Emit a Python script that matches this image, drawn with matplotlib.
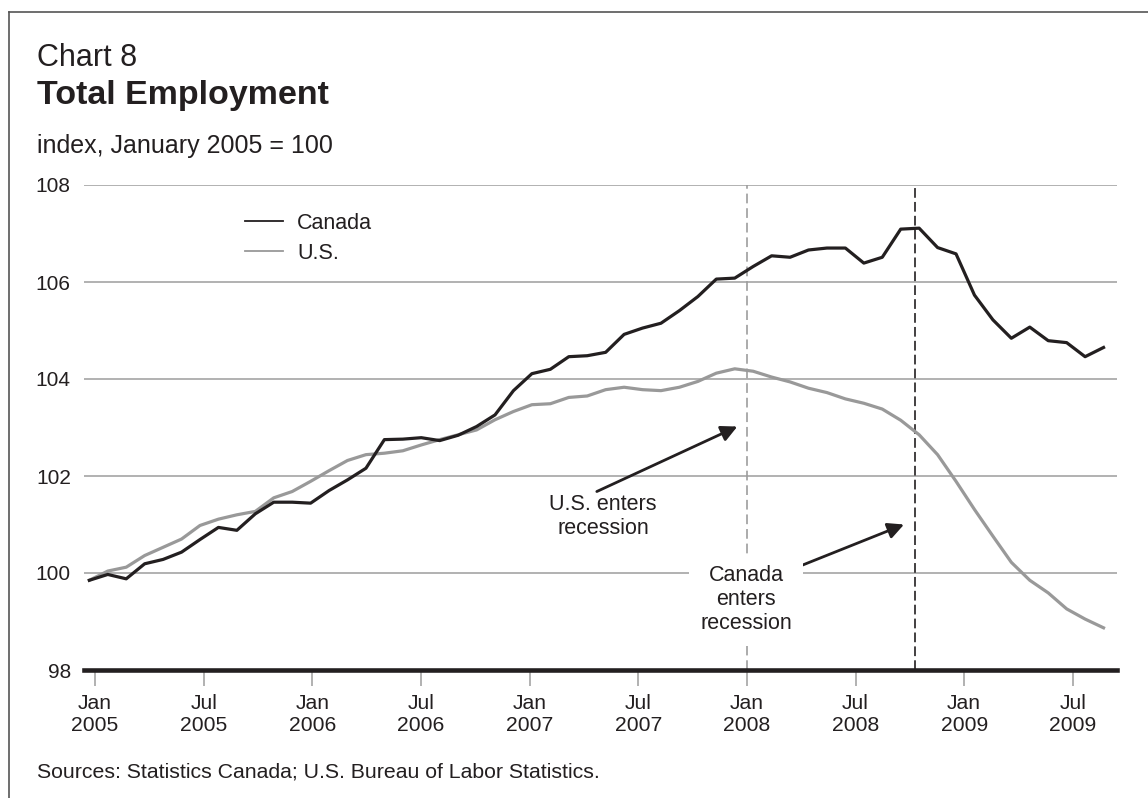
import numpy as np
import matplotlib
matplotlib.use("Agg")
import matplotlib.pyplot as plt
from matplotlib.lines import Line2D

# monthly index, January 2005 = 100 (Jan 2005 .. Aug 2009)
canada = [99.85, 99.97, 99.88, 100.19, 100.28, 100.43, 100.69, 100.94, 100.88, 101.22,
          101.46, 101.46, 101.44, 101.70, 101.92, 102.16, 102.75, 102.76, 102.79, 102.73,
          102.84, 103.02, 103.26, 103.76, 104.11, 104.20, 104.46, 104.48, 104.55, 104.92,
          105.05, 105.15, 105.41, 105.70, 106.06, 106.08, 106.32, 106.54, 106.51, 106.66,
          106.70, 106.70, 106.39, 106.51, 107.09, 107.11, 106.71, 106.58, 105.73, 105.22,
          104.84, 105.07, 104.79, 104.75, 104.46, 104.65]
us = [99.85, 100.04, 100.12, 100.36, 100.53, 100.70, 100.98, 101.11, 101.20, 101.27,
      101.55, 101.68, 101.89, 102.11, 102.32, 102.44, 102.47, 102.52, 102.64, 102.75,
      102.85, 102.95, 103.16, 103.33, 103.47, 103.49, 103.62, 103.65, 103.78, 103.83,
      103.78, 103.76, 103.83, 103.95, 104.12, 104.21, 104.16, 104.04, 103.94, 103.81,
      103.72, 103.59, 103.50, 103.38, 103.15, 102.85, 102.44, 101.89, 101.31, 100.76,
      100.22, 99.85, 99.59, 99.26, 99.05, 98.87]
tick_labels = ["Jan\n2005", "Jul\n2005", "Jan\n2006", "Jul\n2006", "Jan\n2007",
               "Jul\n2007", "Jan\n2008", "Jul\n2008", "Jan\n2009", "Jul\n2009"]
tick_months = np.arange(0, 55, 6)
us_recession = 36      # months after Jan 2005
can_recession = 45.3

plt.rcParams['font.family'] = ['Liberation Sans', 'DejaVu Sans']
plt.rcParams['lines.scale_dashes'] = False
ink = '#231f20'
grey = '#9d9d9d'

W, H = 1148, 798
fig = plt.figure(figsize=(W / 100, H / 100), dpi=100)
ax = fig.add_axes([84 / W, 1 - 670 / H, (1117 - 84) / W, (670 - 185) / H])

# the chart's ticks run a bit tighter than the monthly points
def month_pos(m):
    return 0.31 + np.asarray(m) * 0.9819

x = np.arange(len(canada))
l_can, = ax.plot(x, canada, color=ink, lw=2.3, zorder=4, label='Canada')
l_us, = ax.plot(x, us, color='#999999', lw=2.3, zorder=3, label='U.S.')

ax.axvline(month_pos(us_recession), color=grey, lw=1.2, dashes=(7, 3.5), zorder=2)
ax.axvline(month_pos(can_recession), color=ink, lw=1.2, dashes=(7, 3), zorder=2)

ax.set_xlim(-0.29, 55.73)
ax.set_ylim(98, 108)
ax.set_yticks(np.arange(98, 109, 2))
ax.yaxis.grid(True, color=grey, lw=1.1, zorder=1)
ax.set_axisbelow(True)
ax.set_xticks(month_pos(tick_months))
ax.set_xticklabels(tick_labels, linespacing=1.2)

for s in ['left', 'right', 'top']:
    ax.spines[s].set_visible(False)
ax.spines['bottom'].set_linewidth(3.3)
ax.spines['bottom'].set_color(ink)
ax.spines['bottom'].set_zorder(6)
ax.tick_params(axis='y', length=0, pad=9.5, labelsize=15, labelcolor=ink)
ax.tick_params(axis='x', length=11.5, width=1.1, color=grey, pad=6,
               labelsize=15.2, labelcolor=ink)

ax.legend(handles=[l_can, l_us], loc='upper left',
          bbox_to_anchor=(245 / W, 1 - 213 / H), bbox_transform=fig.transFigure,
          frameon=False, fontsize=15.5, handlelength=1.78, handletextpad=0.65,
          labelspacing=0.4, borderpad=0, borderaxespad=0, labelcolor=ink)
for h in ax.get_legend().get_lines():
    h.set_linewidth(1.3)

arrow = dict(arrowstyle='-|>', color=ink, lw=2, mutation_scale=24,
             shrinkA=0, shrinkB=0)
ax.annotate('', xy=(35.14, 103.02), xytext=(27.52, 101.68), arrowprops=arrow, zorder=5)
ax.text(27.86, 101.17, 'U.S. enters\nrecession', ha='center', va='center',
        fontsize=15.5, color=ink, linespacing=1.2, zorder=5)
ax.annotate('', xy=(44.18, 101.0), xytext=(38.39, 100.12), arrowprops=arrow, zorder=5)
ax.text(35.61, 99.45, 'Canada\nenters\nrecession', ha='center', va='center',
        fontsize=15.5, color=ink, linespacing=1.2, zorder=5,
        bbox=dict(facecolor='white', edgecolor='none', pad=8))

fig.text(37 / W, 1 - 66.5 / H, 'Chart 8', fontsize=22, color=ink, va='baseline')
fig.text(37 / W, 1 - 104 / H, 'Total Employment', fontsize=24.5, fontweight='bold',
         color=ink, va='baseline')
fig.text(37 / W, 1 - 152.5 / H, 'index, January 2005 = 100', fontsize=18, color=ink,
         va='baseline')
fig.text(37 / W, 1 - 777 / H, 'Sources: Statistics Canada; U.S. Bureau of Labor Statistics.',
         fontsize=15.3, color=ink, va='baseline')

# frame round the chart (only left and top show)
fig.add_artist(Line2D([9 / W, 9 / W], [0, 1 - 12 / H], color='#555555', lw=1.2))
fig.add_artist(Line2D([9 / W, 1], [1 - 12 / H, 1 - 12 / H], color='#555555', lw=1.2))

fig.savefig('out.png', dpi=100)
